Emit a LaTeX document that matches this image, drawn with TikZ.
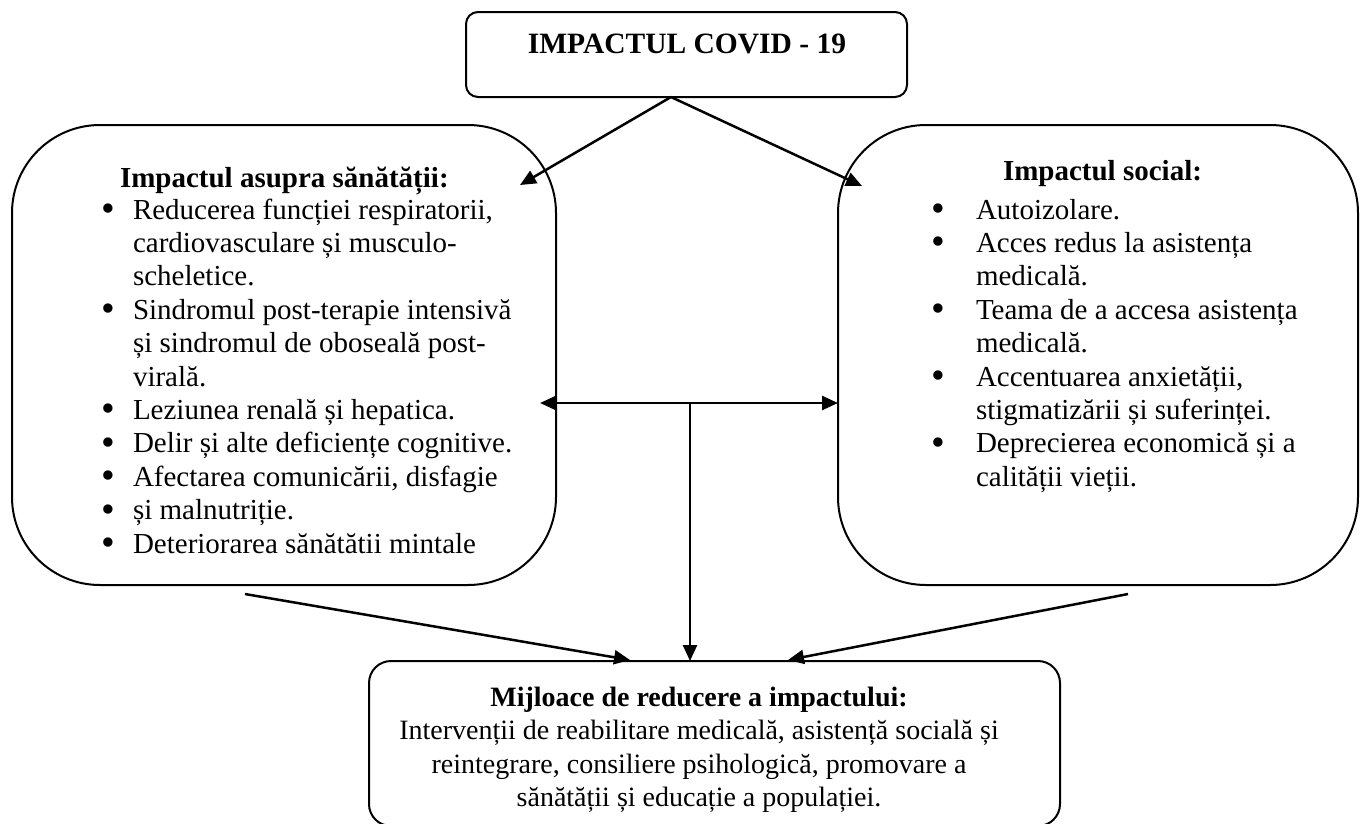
\documentclass[tikz,border=0pt]{standalone}
\usepackage{fontspec}
\setmainfont{Liberation Serif}
\usetikzlibrary{arrows.meta}
\newcommand{\bul}{\smash{\raisebox{-2.5pt}{\scalebox{1.35}{\textbullet}}}}
\begin{document}
\begin{tikzpicture}[x=1pt,y=-1pt,
  box/.style={draw, line width=2pt, inner sep=0pt},
  conn/.style={line width=2.5pt, -{Triangle[length=16pt,width=14pt]}},
  both/.style={line width=2.5pt, {Triangle[length=16pt,width=14pt]}-{Triangle[length=16pt,width=14pt]}},
  txt/.style={inner sep=0pt, outer sep=0pt, font=\fontsize{29}{33.4}\selectfont},
  head/.style={inner sep=0pt, outer sep=0pt, font=\fontsize{29}{33.4}\selectfont\bfseries},
  btxt/.style={inner sep=0pt, outer sep=0pt, font=\fontsize{28}{33.6}\selectfont},
]
\useasboundingbox (0,0) rectangle (1368,823);
\clip (0,0) rectangle (1368,823);

% boxes
\node[box, rounded corners=12pt, minimum width=441pt, minimum height=85pt] (top) at (686.5,54.5) {};
\node[box, rounded corners=88pt, minimum width=544pt, minimum height=460pt] (health) at (284,355) {};
\node[box, rounded corners=88pt, minimum width=520pt, minimum height=460pt] (social) at (1098,355) {};
\node[box, rounded corners=22pt, minimum width=691pt, minimum height=165pt] (means) at (714.5,743.5) {};

% title
\node[head, font=\fontsize{29.5}{30}\selectfont\bfseries, anchor=base] (title) at (687,53) {IMPACTUL COVID - 19};

% left box text
\node[head, anchor=base west] (hhead) at (120,187) {Impactul asupra sănătății:};
\begin{scope}
\clip (0,0) rectangle (1368,553.5);
\node[txt, anchor=base west] (hlist) at (101,219) {\begin{tabular}[t]{@{}p{32pt}@{}l@{}}
\bul & Reducerea funcției respiratorii,\\
 & cardiovasculare și musculo-\\
 & scheletice.\\
\bul & Sindromul post-terapie intensivă\\
 & și sindromul de oboseală post-\\
 & virală.\\
\bul & Leziunea renală și hepatica.\\
\bul & Delir și alte deficiențe cognitive.\\
\bul & Afectarea comunicării, disfagie\\
\bul & și malnutriție.\\
\bul & Deteriorarea sănătății mintale
\end{tabular}};
\end{scope}

% right box text
\node[head, anchor=base west] (shead) at (1003,180) {Impactul social:};
\node[txt, anchor=base west] (slist) at (931,219) {\begin{tabular}[t]{@{}p{45pt}@{}l@{}}
\bul & Autoizolare.\\
\bul & Acces redus la asistența\\
 & medicală.\\
\bul & Teama de a accesa asistența\\
 & medicală.\\
\bul & Accentuarea anxietății,\\
 & stigmatizării și suferinței.\\
\bul & Deprecierea economică și a\\
 & calității vieții.
\end{tabular}};

% bottom box text
\node[btxt, anchor=base] (mtext) at (699,706) {\begin{tabular}[t]{@{}c@{}}
\textbf{Mijloace de reducere a impactului:}\\
Intervenții de reabilitare medicală, asistență socială și\\
reintegrare, consiliere psihologică, promovare a\\
sănătății și educație a populației.
\end{tabular}};

% connectors
\coordinate (apex) at (671,97);
\coordinate (tipL) at (520,185);
\coordinate (tipR) at (862,186);
\coordinate (hl) at (540,403);
\coordinate (hr) at (838,403);
\coordinate (hmid) at (690,403);
\coordinate (vtip) at (690,661);
\coordinate (dls) at (245,594);
\coordinate (dlt) at (630,660);
\coordinate (drs) at (1128,594);
\coordinate (drt) at (788,660);

\draw[conn] (apex) -- (tipL);
\draw[conn] (apex) -- (tipR);
\draw[both] (hl) -- (hr);
\draw[conn] (hmid) -- (vtip);
\draw[conn] (dls) -- (dlt);
\draw[conn] (drs) -- (drt);
\end{tikzpicture}
\end{document}
